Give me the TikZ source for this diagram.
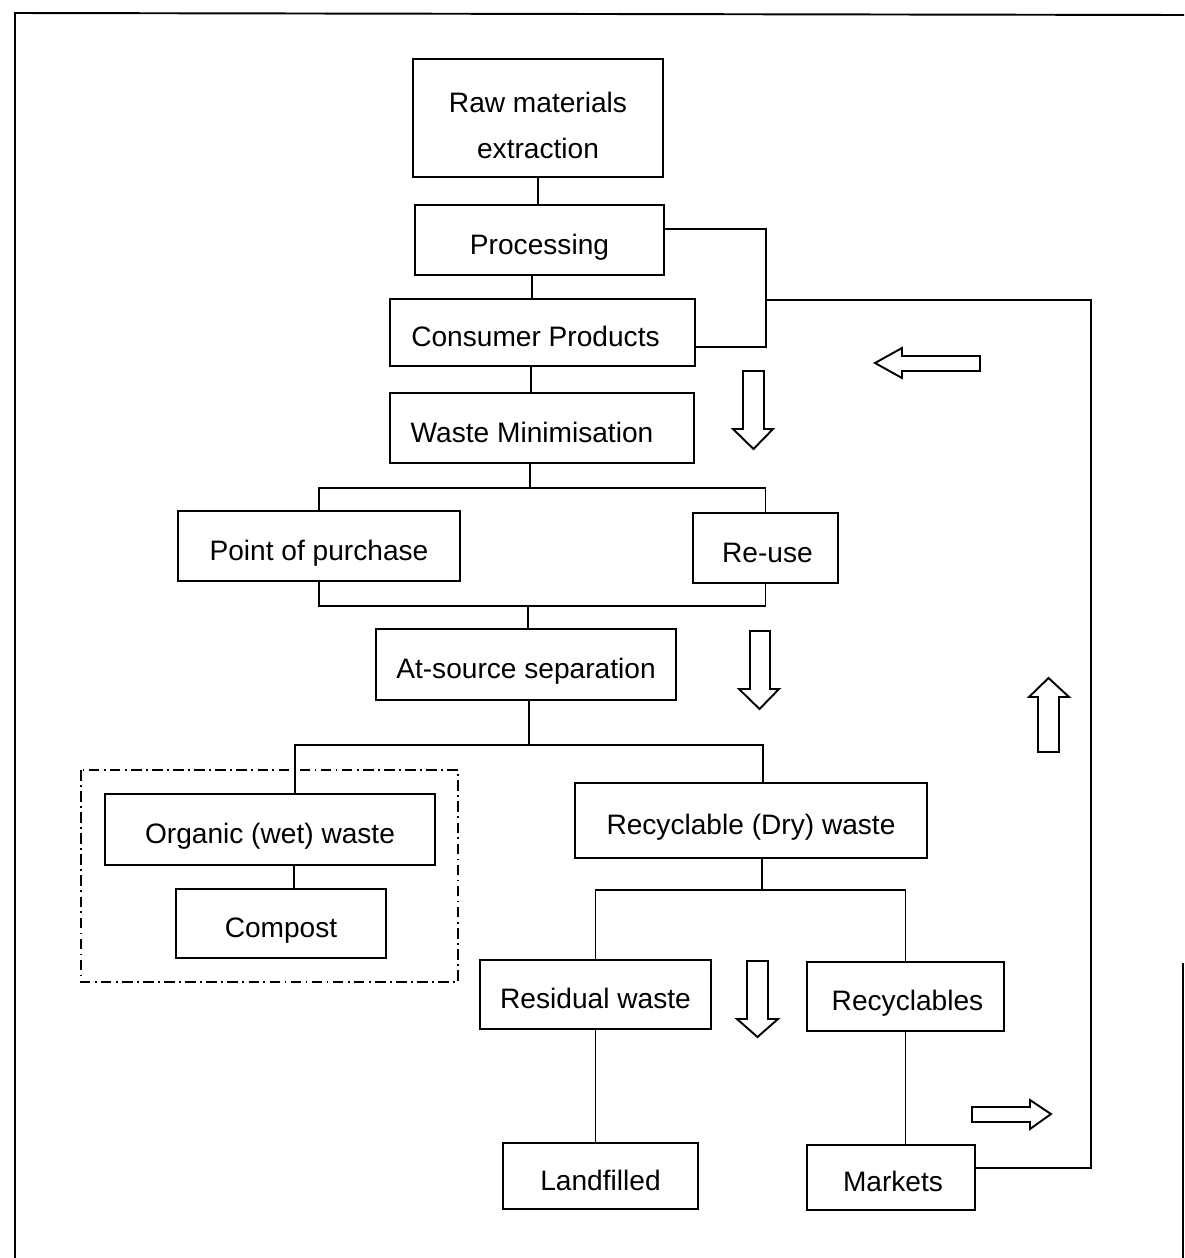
\documentclass[tikz,border=0pt]{standalone}
\usepackage{fontspec}
\setmainfont{Liberation Sans}
\usetikzlibrary{positioning}

\tikzset{
  stage/.style={draw, line width=1.1pt, inner sep=0pt, text height=16pt, text depth=0pt,
    font=\fontsize{16}{26}\selectfont},
  link/.style={line width=1.1pt},
  hollow/.style={draw, line width=1.1pt, fill=white, line join=miter},
}

\begin{document}
\begin{tikzpicture}[x=0.02cm, y=-0.02cm]
        % Page size and outer frame
        \useasboundingbox (0,0) rectangle (1184,1258);
        \draw[line width=1.1pt] (15,1258) -- (15,13) -- (1184,15);
        \draw[line width=1.1pt] (1183,963) -- (1183,1258);

        % Stages of the product chain
        \node[stage, align=center, text height=46pt, text depth=0pt, minimum width=5cm, minimum height=2.36cm] (raw) at (538,118) {Raw materials\\extraction};
        \node[stage, minimum width=4.98cm, minimum height=1.4cm] (proc) at (539.5,240) {Processing};
        \node[stage, minimum width=6.1cm, minimum height=1.34cm] (cons) at (542.5,332.5) {Consumer Products\hspace{0.28cm}\mbox{}};
        \node[stage, minimum width=6.08cm, minimum height=1.4cm] (wmin) at (542,428) {Waste Minimisation\hspace{0.4cm}\mbox{}};
        \node[stage, minimum width=5.64cm, minimum height=1.4cm] (pur) at (319,546) {Point of purchase};
        \node[stage, minimum width=2.9cm, minimum height=1.4cm] (reuse) at (765.5,548) {\hspace{0.08cm}Re-use};
        \node[stage, minimum width=6cm, minimum height=1.42cm] (src) at (526,664.5) {At-source separation};

        % Organic branch (dash-dotted group)
        \draw[line width=1.1pt, dash pattern=on 6pt off 2.5pt on 1pt off 2.5pt] (81,770) rectangle (458,982);
        \node[stage, minimum width=6.6cm, minimum height=1.42cm] (org) at (270,829.5) {Organic (wet) waste};
        \node[stage, minimum width=4.2cm, minimum height=1.38cm] (comp) at (281,923.5) {Compost};

        % Dry branch
        \node[stage, minimum width=7.04cm, minimum height=1.5cm] (dry) at (751,820.5) {Recyclable (Dry) waste};
        \node[stage, minimum width=4.62cm, minimum height=1.38cm] (res) at (595.5,994.5) {Residual waste};
        \node[stage, minimum width=3.94cm, minimum height=1.38cm] (recy) at (905.5,996.5) {\hspace{0.08cm}Recyclables};
        \node[stage, minimum width=3.9cm, minimum height=1.32cm] (land) at (600.5,1176) {Landfilled};
        \node[stage, minimum width=3.36cm, minimum height=1.3cm] (mkt) at (891,1177.5) {\hspace{0.08cm}Markets};

        % Junction points
        \coordinate (fb) at (766,300);
        \coordinate (fr) at (1091,300);
        \coordinate (wm) at (530,488);
        \coordinate (pp) at (528,606);
        \coordinate (as) at (529,745);
        \coordinate (rd) at (762,890);

        % Connectors
        \draw[link] (raw.south) -- (raw.south |- proc.north);
        \draw[link] ([xshift=-0.15cm]proc.south) -- ([xshift=-0.21cm]cons.north);
        \draw[link] ([xshift=-0.23cm]cons.south) -- ([xshift=-0.22cm]wmin.north);
        \draw[link] ([yshift=0.22cm]proc.east) -| (fb) |- ([yshift=-0.29cm]cons.east);
        \draw[link] (fb) -- (fr) |- ([yshift=0.19cm]mkt.east); % market feedback loop

        \draw[link] (wmin.south -| wm) -- (wm);
        \draw[link] (pur.north) |- (wm) -| (reuse.north);
        \draw[link] (pur.south) |- (pp) -| (reuse.south);
        \draw[link] (pp) -- (pp |- src.north);

        \draw[link] (src.south -| as) -- (as);
        \draw[link] ([xshift=0.5cm]org.north) |- (as) -| ([xshift=0.24cm]dry.north);
        \draw[link] ([xshift=0.48cm]org.south) -- ([xshift=0.26cm]comp.north);

        \draw[link] (dry.south -| rd) -- (rd);
        \draw[link] (res.north) |- (rd) -| (recy.north);
        \draw[link] (res.south) -- (res.south |- land.north);
        \draw[link] (recy.south) -- (recy.south |- mkt.north);

        % Flow direction arrows
        \draw[hollow] (980,356) -- (902,356) -- (902,348) -- (875,363) -- (902,378) -- (902,371) -- (980,371) -- cycle;
        \draw[hollow] (743,371) -- (764,371) -- (764,429) -- (773,429) -- (753.5,449) -- (733,429) -- (743,429) -- cycle;
        \draw[hollow] (750,631) -- (770,631) -- (770,689) -- (779,689) -- (759.5,709) -- (739,689) -- (750,689) -- cycle;
        \draw[hollow] (1038,752) -- (1038,697) -- (1029,697) -- (1048.5,678) -- (1069,697) -- (1059,697) -- (1059,752) -- cycle;
        \draw[hollow] (747,961) -- (768,961) -- (768,1019) -- (778,1019) -- (757.5,1037) -- (737,1019) -- (747,1019) -- cycle;
        \draw[hollow] (972,1107) -- (1030,1107) -- (1030,1100) -- (1051,1114) -- (1030,1129) -- (1030,1122) -- (972,1122) -- cycle;
\end{tikzpicture}
\end{document}
